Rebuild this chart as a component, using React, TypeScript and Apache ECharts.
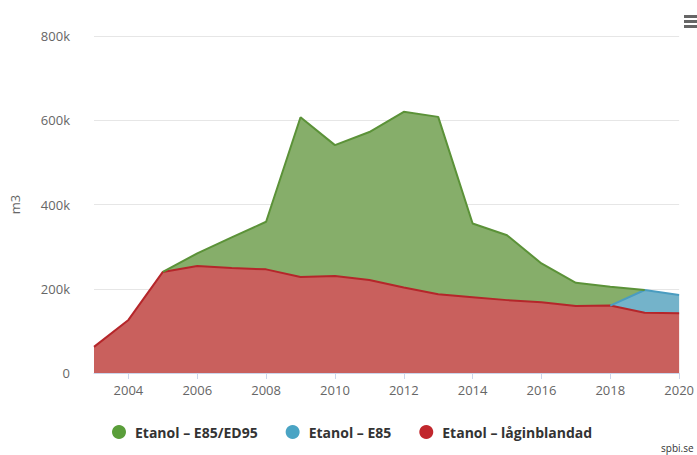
import React, { useEffect, useRef } from "react";
import * as echarts from "echarts";

const years = ["2003","2004","2005","2006","2007","2008","2009","2010","2011","2012","2013","2014","2015","2016","2017","2018","2019","2020"];
// values in m3
const lowBlend = [62000,126000,240000,254000,249000,246000,228000,230000,221000,203000,187000,180000,173000,168000,159000,160000,143000,142000];
const e85 = [null,null,null,null,null,null,null,null,null,null,null,null,null,null,null,0,54000,43000];
const e85ed95 = [null,null,0,30000,73000,113000,379000,311000,351000,417000,421000,175000,154000,92000,55000,45000,0,null];
const yTicks = [0, 200000, 400000, 600000, 800000];

const names = ["Etanol – E85/ED95", "Etanol – E85", "Etanol – låginblandad"];

export default function App() {
  const ref = useRef<HTMLDivElement>(null);
  useEffect(() => {
    if (!ref.current) return;
    const chart = echarts.init(ref.current, undefined, { renderer: "svg" });
    const font = "'Open Sans', Arial, sans-serif";
    chart.setOption({
      animation: false,
      backgroundColor: "#ffffff",
      grid: { left: 91, right: 5, top: 36, bottom: 82 },
      legend: {
        data: names,
        left: 107,
        top: 420,
        icon: "circle",
        itemWidth: 14,
        itemHeight: 14,
        itemGap: 28,
        textStyle: { fontFamily: font, fontSize: 14, fontWeight: "bold", color: "#333333", padding: [0, 0, 0, 4] },
      },
      xAxis: {
        type: "category",
        data: years,
        boundaryGap: false,
        axisLine: { lineStyle: { color: "#ccd6eb" } },
        axisTick: {
          length: 6,
          lineStyle: { color: "#ccd6eb" },
          interval: (i: number, v: string) => Number(v) % 2 === 0,
        },
        axisLabel: {
          fontFamily: font,
          fontSize: 13,
          color: "#666666",
          margin: 10,
          interval: (i: number, v: string) => Number(v) % 2 === 0,
        },
        splitLine: { show: false },
      },
      yAxis: {
        type: "value",
        min: yTicks[0],
        max: yTicks[yTicks.length - 1],
        interval: 200000,
        name: "m3",
        nameLocation: "middle",
        nameGap: 73,
        nameTextStyle: { fontFamily: font, fontSize: 13, color: "#666666" },
        axisLine: { show: false },
        axisTick: { show: false },
        axisLabel: {
          fontFamily: font,
          fontSize: 13,
          color: "#666666",
          margin: 24,
          formatter: (v: number) => (v === 0 ? "0" : v / 1000 + "k"),
        },
        splitLine: { lineStyle: { color: "#e6e6e6" } },
      },
      series: [
        {
          name: names[2],
          type: "line",
          stack: "total",
          data: lowBlend,
          showSymbol: false,
          symbol: "none",
          itemStyle: { color: "#c1272d" },
          lineStyle: { color: "#b5262a", width: 2 },
          areaStyle: { color: "#c9605d", opacity: 1 },
        },
        {
          name: names[1],
          type: "line",
          stack: "total",
          data: e85,
          showSymbol: false,
          symbol: "none",
          itemStyle: { color: "#4aa4c4" },
          lineStyle: { color: "#4a9cc0", width: 2 },
          areaStyle: { color: "#74b3ca", opacity: 1 },
        },
        {
          name: names[0],
          type: "line",
          stack: "total",
          data: e85ed95,
          showSymbol: false,
          symbol: "none",
          itemStyle: { color: "#5a9e3a" },
          lineStyle: { color: "#5b9238", width: 2 },
          areaStyle: { color: "#86ae6a", opacity: 1 },
        },
      ],
      graphic: [
        { type: "rect", shape: { x: 684, y: 15, width: 14, height: 3 }, style: { fill: "#666666" } },
        { type: "rect", shape: { x: 684, y: 20, width: 14, height: 3 }, style: { fill: "#666666" } },
        { type: "rect", shape: { x: 684, y: 25, width: 14, height: 3 }, style: { fill: "#666666" } },
        {
          type: "text",
          x: 661,
          y: 443,
          style: { text: "spbi.se", fontFamily: font, fontSize: 10, fill: "#333333" },
        },
      ],
    });
    return () => chart.dispose();
  }, []);
  return (
    <div
      ref={ref}
      style={{ position: "fixed", left: 0, top: 0, width: 697, height: 455 }}
    />
  );
}
